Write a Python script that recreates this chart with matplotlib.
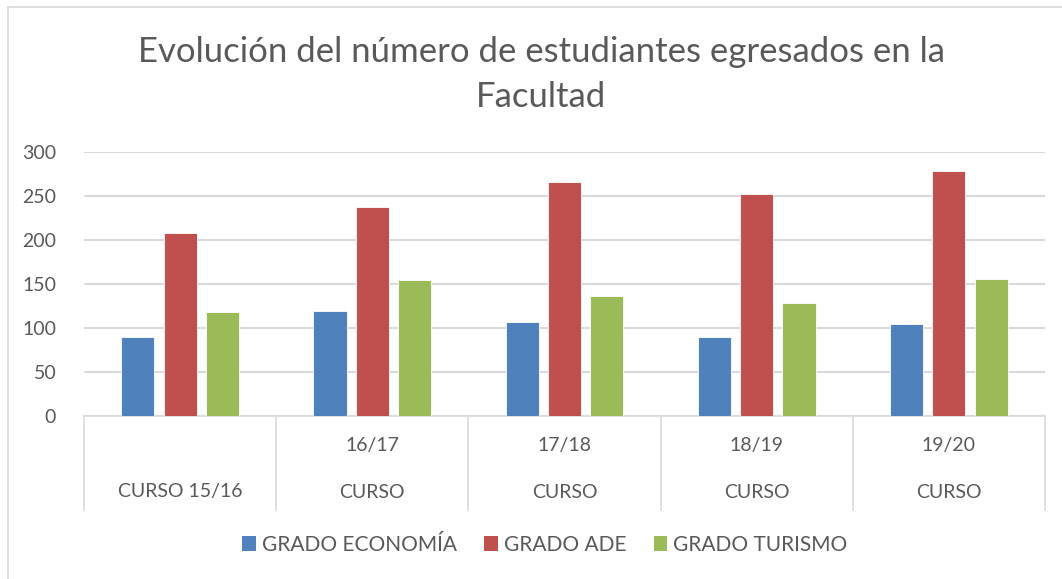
import matplotlib
matplotlib.use("Agg")
import matplotlib.pyplot as plt
from matplotlib.patches import Patch
from matplotlib.lines import Line2D
import matplotlib.transforms as mtransforms
import numpy as np

plt.rcParams['font.family'] = ['Lato', 'DejaVu Sans']

categories_top = ["", "16/17", "17/18", "18/19", "19/20"]
categories_bottom = ["CURSO 15/16", "CURSO", "CURSO", "CURSO", "CURSO"]
series_names = ["GRADO ECONOMÍA", "GRADO ADE", "GRADO TURISMO"]
economia = [90, 119, 107, 90, 104]
ade = [208, 238, 266, 252, 278]
turismo = [118, 155, 136, 128, 156]
colors = ["#4f81bd", "#c0504d", "#9bbb59"]
yticks = [0, 50, 100, 150, 200, 250, 300]

W, H = 1062, 579
fig = plt.figure(figsize=(W / 100, H / 100), dpi=100)
fig.patch.set_facecolor("white")

def fx(px):
    return px / W

def fy(py):
    return 1 - py / H

ax = fig.add_axes([fx(84), fy(416), fx(1045) - fx(84), fy(152) - fy(416)])
x = np.arange(len(categories_bottom))
bw = 0.172
off = 0.22
for i, (vals, c) in enumerate(zip([economia, ade, turismo], colors)):
    ax.bar(x + (i - 1) * off, vals, width=bw, color=c, edgecolor="white", linewidth=0.6, zorder=3)

ax.set_xlim(-0.5, len(x) - 0.5)
ax.set_ylim(0, 300)
ax.set_yticks(yticks)
ax.set_yticklabels([str(v) for v in yticks], fontsize=14, color="#595959")
ax.tick_params(axis="y", length=0, pad=20)
ax.tick_params(axis="x", length=0)
ax.set_xticks([])
ax.grid(axis="y", color="#d9d9d9", linewidth=1.5, zorder=0)
for s in ["top", "right", "left"]:
    ax.spines[s].set_visible(False)
ax.spines["bottom"].set_color("#d9d9d9")
ax.spines["bottom"].set_linewidth(1.2)

trans = mtransforms.blended_transform_factory(ax.transData, ax.transAxes)
axh = 416 - 152
for b in np.arange(-0.5, len(x), 1.0):
    ax.add_line(Line2D([b, b], [0, -(510 - 416) / axh], transform=trans,
                       color="#d9d9d9", linewidth=1.2, clip_on=False))
for xi, t, bt in zip(x, categories_top, categories_bottom):
    if t:
        ax.text(xi, -(445 - 416) / axh, t, transform=trans, ha="center", va="center",
                fontsize=14, color="#595959")
    ax.text(xi, -(492 - 416) / axh, bt, transform=trans, ha="center", va="center",
            fontsize=14, color="#595959")

fig.text(fx(541), fy(52), "Evolución del número de estudiantes egresados en la",
         ha="center", va="center", fontsize=25, color="#595959")
fig.text(fx(541), fy(97), "Facultad", ha="center", va="center", fontsize=25, color="#595959")

handles = [Patch(facecolor=c, edgecolor="none") for c in colors]
fig.legend(handles, series_names, loc="center", bbox_to_anchor=(fx(545), fy(545)), ncol=3,
           frameon=False, fontsize=15, labelcolor="#595959", handlelength=0.65, handleheight=0.7,
           handletextpad=0.3, columnspacing=1.3)

# outer chart border (top and left visible)
fig.add_artist(Line2D([fx(8), 1], [fy(7), fy(7)], transform=fig.transFigure, color="#d9d9d9", linewidth=1.2))
fig.add_artist(Line2D([fx(8), fx(8)], [fy(7), 0], transform=fig.transFigure, color="#d9d9d9", linewidth=1.2))

fig.savefig("out.png", dpi=100, facecolor="white")
